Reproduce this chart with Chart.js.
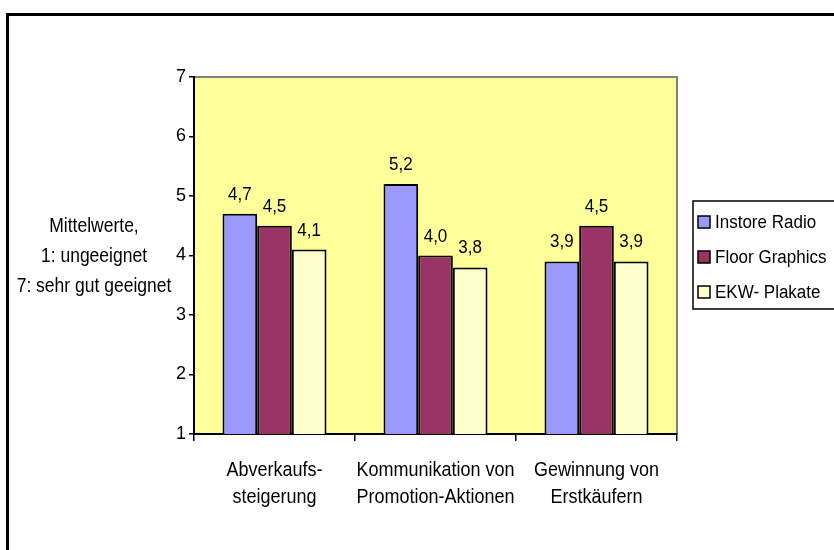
<!DOCTYPE html>
<html>
<head>
<meta charset="utf-8">
<script src="https://cdn.jsdelivr.net/npm/chart.js@4/dist/chart.umd.min.js"></script>
<style>
html,body{margin:0;padding:0;background:#fff;}
#wrap{width:834px;height:550px;position:relative;}
</style>
</head>
<body>
<div id="wrap"><canvas id="c" width="834" height="550"></canvas></div>
<script>
const categories = [["Abverkaufs-","steigerung"],["Kommunikation von","Promotion-Aktionen"],["Gewinnung von","Erstkäufern"]];
const seriesNames = ["Instore Radio","Floor Graphics","EKW- Plakate"];
const instoreRadio = [4.7, 5.2, 3.9];
const floorGraphics = [4.5, 4.0, 4.5];
const ekwPlakate = [4.1, 3.8, 3.9];
const yTicks = [1,2,3,4,5,6,7];
const yTitle = ["Mittelwerte,","1: ungeeignet","7: sehr gut geeignet"];
const colors = ["#9999FF","#993366","#FFFFCC"];

const FONT = "'Liberation Sans', Arial, sans-serif";

function stretchText(ctx, text, x, y, size, sy){
  ctx.save();
  ctx.font = size + "px " + FONT;
  ctx.translate(x, y);
  ctx.scale(1, sy);
  ctx.fillText(text, 0, 0);
  ctx.restore();
}

const framePlugin = {
  id:'frame',
  beforeDraw(chart){
    const {ctx, chartArea:a} = chart;
    ctx.save();
    ctx.fillStyle = "#FFFF99";
    ctx.fillRect(a.left, a.top, a.right-a.left, a.bottom-a.top);
    ctx.strokeStyle = "#808080";
    ctx.lineWidth = 2;
    ctx.beginPath();
    ctx.moveTo(a.left, a.top);
    ctx.lineTo(a.right, a.top);
    ctx.lineTo(a.right, a.bottom);
    ctx.stroke();
    ctx.restore();
  },
  afterDraw(chart){
    const ctx = chart.ctx;
    ctx.save();
    // outer border
    ctx.strokeStyle = "#000";
    ctx.lineWidth = 3;
    ctx.beginPath();
    ctx.moveTo(834, 14.5);
    ctx.lineTo(7.5, 14.5);
    ctx.lineTo(7.5, 550);
    ctx.stroke();
    ctx.fillStyle = "#000";
    ctx.textAlign = "center";
    ctx.textBaseline = "middle";
    // y title
    yTitle.forEach((t,i)=>stretchText(ctx, t, 94, 227 + i*30, 17.5, 1.12));
    // category labels
    const xs = chart.scales.x;
    chart.data.labels.forEach((lines, i)=>{
      const x = xs.getPixelForTick(i);
      lines.forEach((t, j)=>stretchText(ctx, t, x, 470 + j*27, 18, 1.15));
    });
    // data labels
    ctx.textBaseline = "alphabetic";
    chart.data.datasets.forEach((ds, di)=>{
      const meta = chart.getDatasetMeta(di);
      meta.data.forEach((bar, i)=>{
        const v = ds.data[i];
        stretchText(ctx, v.toFixed(1).replace('.', ','), bar.x, bar.y - 14, 17, 1.06);
      });
    });
    // legend
    const lx = 693, ly = 201, lb = 309;
    ctx.font = "17px " + FONT;
    ctx.lineWidth = 1.5;
    ctx.strokeStyle = "#000";
    ctx.beginPath();
    ctx.moveTo(836, ly);
    ctx.lineTo(lx, ly);
    ctx.lineTo(lx, lb);
    ctx.lineTo(836, lb);
    ctx.stroke();
    ctx.textAlign = "left";
    ctx.textBaseline = "middle";
    chart.data.datasets.forEach((ds, di)=>{
      const cy = 222 + di*35;
      ctx.fillStyle = ds.backgroundColor;
      ctx.fillRect(698, cy-6, 12, 12);
      ctx.lineWidth = 1.5;
      ctx.strokeRect(698, cy-6, 12, 12);
      ctx.fillStyle = "#000";
      stretchText(ctx, ds.label, 715, cy + 1, 17, 1.05);
    });
    ctx.restore();
  }
};

new Chart(document.getElementById('c'), {
  type:'bar',
  data:{
    labels: categories,
    datasets: [instoreRadio, floorGraphics, ekwPlakate].map((d,i)=>({
      label: seriesNames[i],
      data: d,
      backgroundColor: colors[i],
      borderColor: "#000",
      borderWidth: 2,
      borderSkipped: 'bottom',
      categoryPercentage: 0.646,
      barPercentage: 1.0
    }))
  },
  options:{
    responsive:false,
    animation:false,
    devicePixelRatio:1,
    layout:{padding:{top:77, right:157, bottom:0, left:0}},
    plugins:{legend:{display:false}, tooltip:{enabled:false}},
    scales:{
      x:{
        offset:true,
        grid:{display:true, offset:true, drawOnChartArea:false, color:"#000", lineWidth:1.5, tickLength:7},
        border:{display:true, color:"#000", width:2},
        ticks:{color:"rgba(0,0,0,0)", font:{family:FONT, size:18, lineHeight:1.5}, padding:14, maxRotation:0, autoSkip:false},
        afterFit(s){ s.height = 116; }
      },
      y:{
        min:1, max:7,
        afterBuildTicks(s){ s.ticks = yTicks.map(v=>({value:v})); },
        grid:{display:true, drawOnChartArea:false, color:"#000", lineWidth:1.5, tickLength:5},
        border:{display:true, color:"#000", width:2},
        ticks:{color:"#000", font:{family:FONT, size:18}, padding:3},
        afterFit(s){ s.width = 194; }
      }
    }
  },
  plugins:[framePlugin]
});
</script>
</body>
</html>
